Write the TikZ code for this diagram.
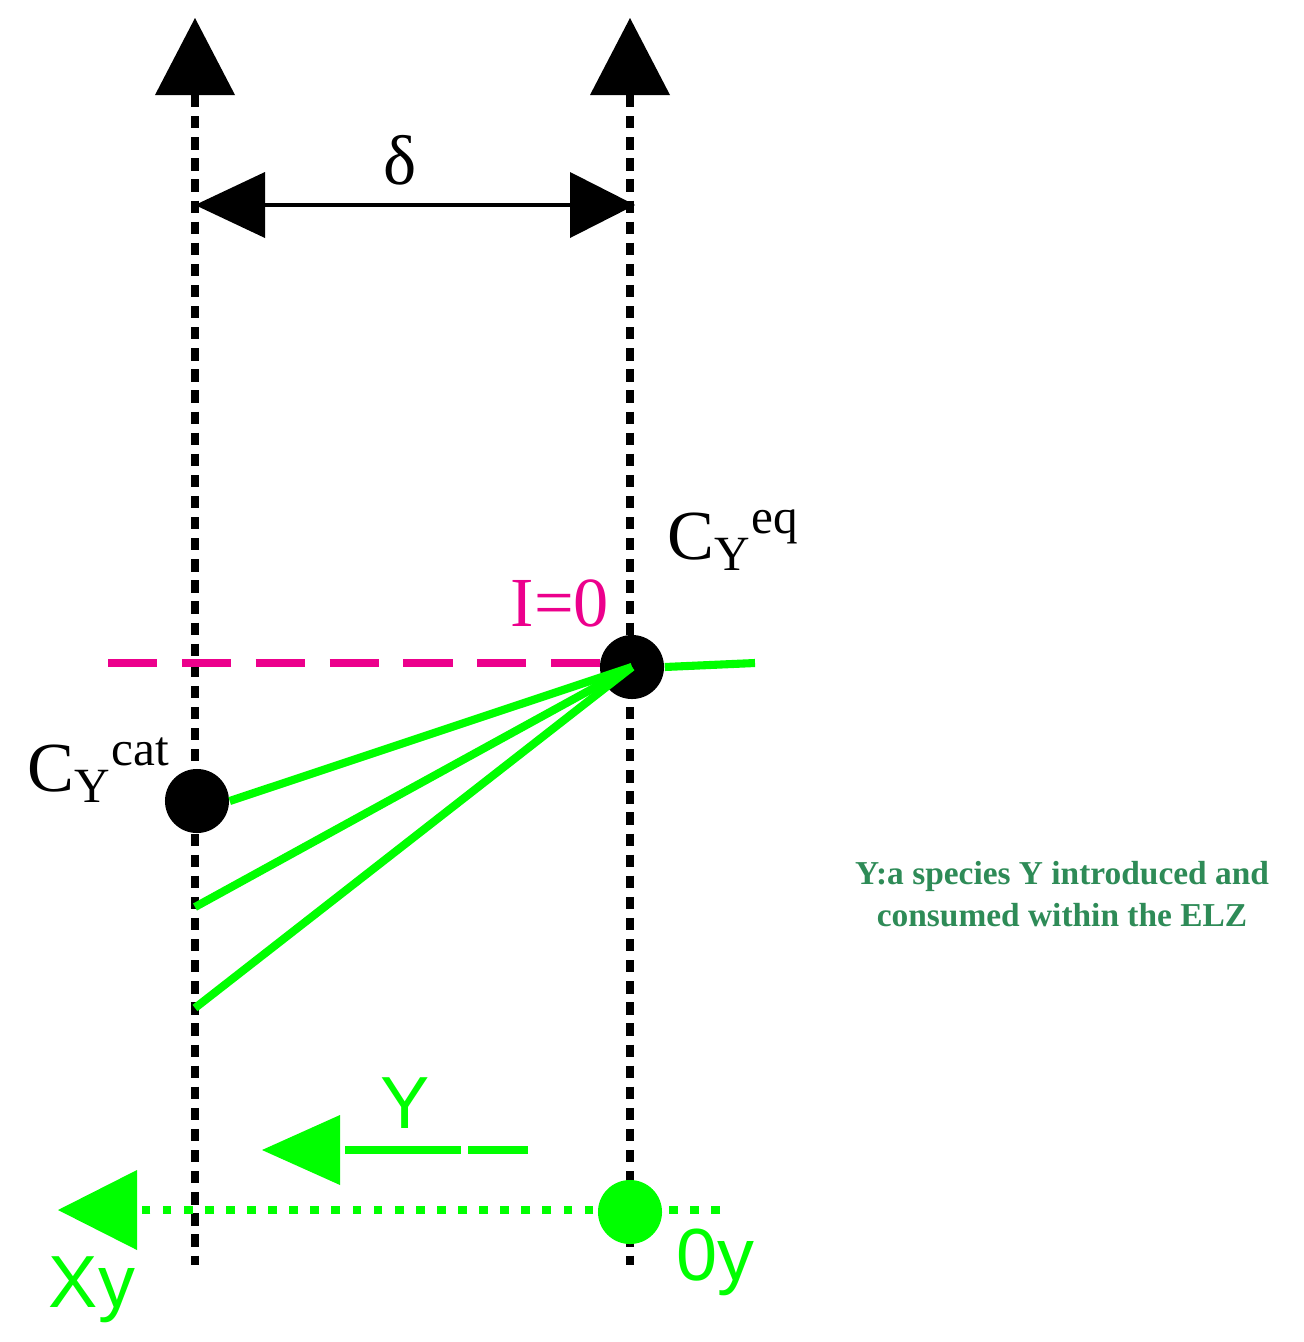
\documentclass[tikz,border=0pt]{standalone}
\usepackage{fontspec}
\setmainfont{Liberation Serif}
\newfontfamily\sansf{Liberation Sans}
\begin{document}
\begin{tikzpicture}[x=0.01cm,y=-0.01cm,
  vline/.style={line width=2.3pt,dash pattern=on 3.5pt off 2.5pt,black},
  tri/.style={fill=black},
  gline/.style={line width=2.3pt,green!100!black,color={rgb,255:red,0;green,255;blue,0}}]
\definecolor{lg}{RGB}{0,255,0}
\definecolor{sg}{RGB}{46,139,87}
\useasboundingbox (0,0) rectangle (1304,1342);
% verticals
\coordinate (lt) at (195,95); \coordinate (lb) at (195,1265);
\coordinate (rt) at (630,95); \coordinate (rb) at (630,1265);
\draw[vline] (lt) -- (lb);
\draw[vline] (rt) -- (rb);
\fill (195,18) -- (235,95) -- (155,95) -- cycle;
\fill (630,18) -- (670,95) -- (590,95) -- cycle;
% delta
\coordinate (dl) at (200,205); \coordinate (dr) at (630,205);
\draw[line width=0.9pt] (dl) -- (dr);
\fill (195,205) -- (265,172) -- (265,238) -- cycle;
\fill (635,205) -- (570,172) -- (570,238) -- cycle;
\node[font=\fontsize{20}{22}\selectfont] (delta) at (400,160) {δ};
% labels
\node[font=\fontsize{20}{22}\selectfont,anchor=west] (ceq) at (655,540) {C\textsubscript{\fontsize{14}{16}\selectfont Y}\textsuperscript{\fontsize{14}{16}\selectfont eq}};
\node[font=\fontsize{20}{22}\selectfont,anchor=west] (ccat) at (15,770) {C\textsubscript{\fontsize{14}{16}\selectfont Y}\textsuperscript{\fontsize{14}{16}\selectfont cat}};
\node[font=\fontsize{20}{22}\selectfont,text=magenta] (i0) at (560,603) {I=0};
% magenta dashed
\coordinate (m1) at (108,663); \coordinate (m2) at (600,663);
\draw[magenta,line width=2.3pt,dash pattern=on 14pt off 7pt] (m1) -- (m2);
% dots
\node[circle,fill=black,minimum size=0.64cm,inner sep=0] (eq) at (632,667) {};
\node[circle,fill=black,minimum size=0.64cm,inner sep=0] (cat) at (197,801) {};
\coordinate (g1) at (195,907); \coordinate (g2) at (195,1008);
\coordinate (ge) at (755,663);
\draw[lg,line width=2.3pt] (eq.east) -- (ge);
\draw[lg,line width=2.3pt] (eq.center) -- (cat.east);
\draw[lg,line width=2.3pt] (eq.center) -- (g1);
\draw[lg,line width=2.3pt] (eq.center) -- (g2);
% note
\node[text=sg,font=\bfseries\fontsize{9.5}{12}\selectfont,align=center] (note) at (1062,894) {Y:a species Y introduced and\\consumed within the ELZ};
% Y arrow
\coordinate (ya) at (345,1150); \coordinate (yb) at (528,1150);
\draw[lg,line width=2.3pt,dash pattern=on 33pt off 2pt on 20pt off 2pt] (ya) -- (yb);
\fill[lg] (262,1150) -- (340,1115) -- (340,1185) -- cycle;
\node[text=lg,font=\sansf\fontsize{21}{24}\selectfont] (ylab) at (405,1103) {Y};
% bottom dotted
\node[circle,fill=lg,minimum size=0.64cm,inner sep=0] (oy) at (630,1212) {};
\coordinate (be) at (720,1210); \coordinate (bs) at (130,1210);
\draw[lg,line width=2.3pt,dash pattern=on 2.5pt off 3.5pt] (be) -- (bs);
\fill[lg] (58,1210) -- (137,1170) -- (137,1250) -- cycle;
\node[text=lg,font=\sansf\fontsize{21}{24}\selectfont] (xy) at (92,1290) {Xy};
\node[text=lg,font=\sansf\fontsize{21}{24}\selectfont] (0y) at (715,1262) {0y};
\end{tikzpicture}
\end{document}
